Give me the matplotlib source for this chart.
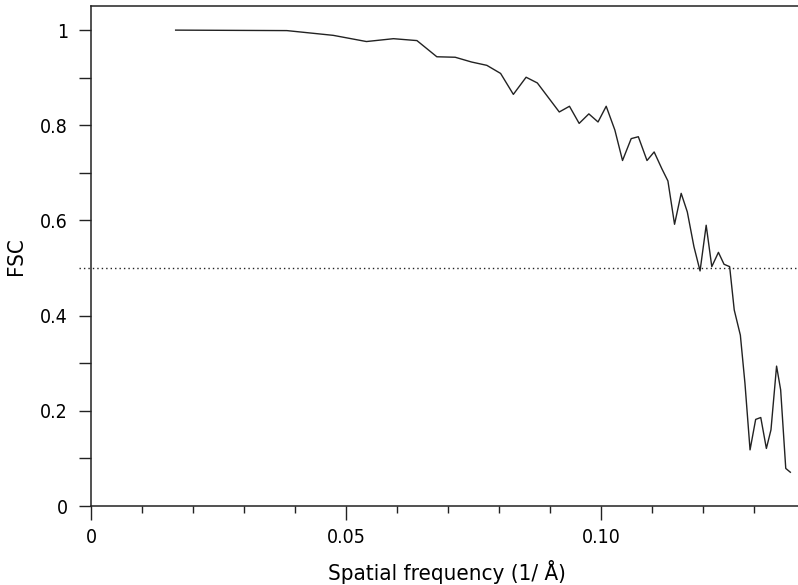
import matplotlib
matplotlib.use("Agg")
import matplotlib.pyplot as plt
from matplotlib.ticker import MultipleLocator, FixedLocator

# FSC curve
freq = [0.0166, 0.0384, 0.0475, 0.0540, 0.0593, 0.0639, 0.0678, 0.0714, 0.0746,
        0.0776, 0.0803, 0.0828, 0.0853, 0.0875, 0.0918, 0.0938, 0.0957, 0.0976,
        0.0994, 0.1010, 0.1027, 0.1042, 0.1059, 0.1073, 0.1090, 0.1104, 0.1119,
        0.1131, 0.1144, 0.1157, 0.1169, 0.1182, 0.1194, 0.1206, 0.1217, 0.1230,
        0.1241, 0.1252, 0.1261, 0.1273, 0.1282, 0.1292, 0.1303, 0.1313, 0.1324,
        0.1333, 0.1344, 0.1352, 0.1362, 0.1371]
fsc = [1.000, 0.999, 0.989, 0.976, 0.982, 0.978, 0.944, 0.943, 0.933,
       0.926, 0.909, 0.865, 0.901, 0.889, 0.828, 0.840, 0.804, 0.824,
       0.807, 0.840, 0.790, 0.726, 0.772, 0.776, 0.726, 0.744, 0.709,
       0.683, 0.592, 0.657, 0.618, 0.545, 0.494, 0.590, 0.503, 0.533,
       0.508, 0.503, 0.412, 0.359, 0.258, 0.118, 0.182, 0.186, 0.121,
       0.160, 0.294, 0.244, 0.079, 0.071]
threshold = 0.5

xticks = [0, 0.05, 0.10]
xticklabels = ["0", "0.05", "0.10"]
yticks = [0, 0.2, 0.4, 0.6, 0.8, 1.0]
yticklabels = ["0", "0.2", "0.4", "0.6", "0.8", "1"]

plt.rcParams['font.family'] = ['DejaVu Sans']
plt.rcParams['font.stretch'] = 'condensed'

fig = plt.figure(figsize=(7.98, 5.85), dpi=100)
ax = fig.add_axes([0.114, 0.135, 0.886, 0.855])

ax.plot(freq, fsc, color="#222222", lw=1.0)
ax.plot([-0.0024, 0.1386], [threshold, threshold], color="#222222", lw=1.0,
        linestyle=(0, (1, 2.2)), clip_on=False)

ax.set_xlim(0, 0.1386)
ax.set_ylim(0, 1.051)

ax.spines["right"].set_visible(False)
for s in ["left", "bottom", "top"]:
    ax.spines[s].set_linewidth(1.1)
    ax.spines[s].set_color("#222222")

ax.set_xticks(xticks)
ax.set_xticklabels(xticklabels)
ax.xaxis.set_minor_locator(MultipleLocator(0.01))
ax.set_yticks(yticks)
ax.set_yticklabels(yticklabels)
ax.yaxis.set_minor_locator(FixedLocator([0.1, 0.3, 0.7, 0.9]))

ax.tick_params(axis="x", which="major", length=10, width=1.0, pad=6,
               labelsize=14, color="#222222")
ax.tick_params(axis="x", which="minor", length=5, width=1.0, color="#222222")
ax.tick_params(axis="y", which="both", length=8.6, width=1.0, pad=8,
               labelsize=14, color="#222222")

ax.set_xlabel("Spatial frequency (1/ Å)", fontsize=16)
ax.set_ylabel("FSC", fontsize=16)
ax.xaxis.set_label_coords(0.504, -0.108)
ax.yaxis.set_label_coords(-0.092, 0.50)

fig.savefig("out.png", dpi=100)
